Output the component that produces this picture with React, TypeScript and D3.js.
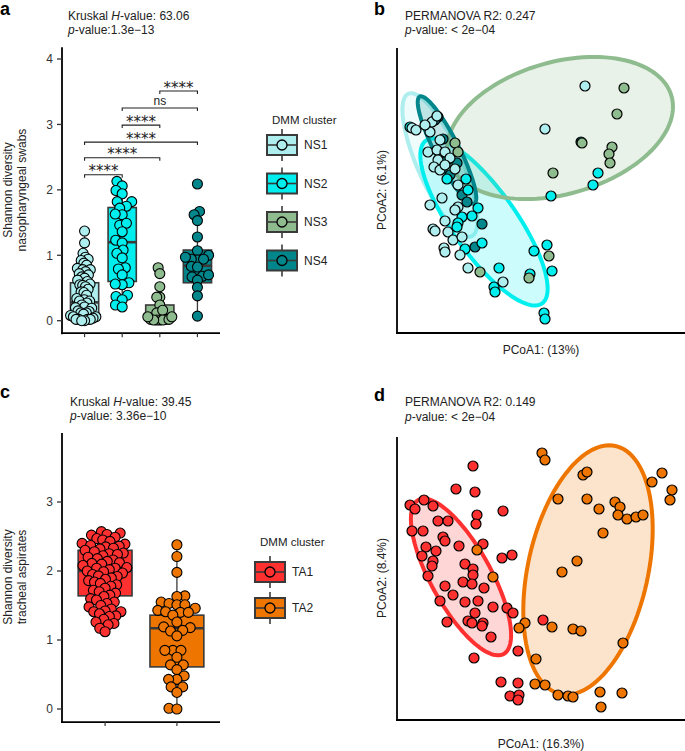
import React from "react";
import * as d3 from "d3";

const FONT = "'Liberation Sans', Arial, Helvetica, sans-serif";
const STAR_FONT = "'DejaVu Sans', sans-serif";

// ---------- Panel a : nasopharyngeal Shannon diversity ----------
const NS_GROUPS = ["NS1", "NS2", "NS3", "NS4"];
const NS_COLORS = ["#AEEEEE", "#00EEEE", "#8FBC8F", "#00868B"];
const NS1_SHANNON = [1.37, 1.19, 1.03, 0.97, 0.94, 0.92, 0.88, 0.85, 0.8, 0.78, 0.78, 0.75, 0.72, 0.7, 0.67, 0.65, 0.62, 0.6, 0.56, 0.55, 0.54, 0.52, 0.48, 0.44, 0.43, 0.39, 0.34, 0.32, 0.3, 0.3, 0.27, 0.24, 0.21, 0.2, 0.19, 0.15, 0.14, 0.12, 0.12, 0.1, 0.08, 0.06, 0.06, 0.04, 0.02, 0.02, 0.02, 0.02, 0.0, 0.0];
const NS2_SHANNON = [2.13, 2.06, 1.99, 1.94, 1.82, 1.82, 1.75, 1.72, 1.62, 1.63, 1.46, 1.49, 1.36, 1.23, 1.19, 1.08, 1.03, 0.96, 0.81, 0.79, 0.7, 0.58, 0.55, 0.56, 0.37, 0.39, 0.32, 0.24, 0.21];
const NS3_SHANNON = [0.81, 0.72, 0.52, 0.36, 0.36, 0.24, 0.12, 0.12, 0.16, 0.01, 0.02, 0.01, 0.02, 0.01, 0.02, 0.01, 0.06, 0.06];
const NS4_SHANNON = [2.09, 1.67, 1.62, 1.53, 1.28, 1.07, 1.0, 0.93, 0.94, 0.97, 0.94, 0.83, 0.82, 0.68, 0.7, 0.67, 0.62, 0.51, 0.38, 0.07];
const NS_Q1 = [0.06, 0.6, 0.0, 0.58];
const NS_MEDIAN = [0.28, 1.2, 0.04, 0.84];
const NS_Q3 = [0.58, 1.73, 0.24, 1.08];
const NS_WLO = [0.0, 0.21, 0.0, 0.07];
const NS_WHI = [1.37, 2.13, 0.52, 1.67];
const NS_SPREAD = [14, 12, 12, 12];
const NS_TICKS = [0, 1, 2, 3, 4];
const SIG_FROM = ["NS1", "NS1", "NS1", "NS2", "NS2", "NS3"];
const SIG_TO = ["NS2", "NS3", "NS4", "NS3", "NS4", "NS4"];
const SIG_Y = [2.23, 2.49, 2.73, 2.99, 3.25, 3.51];
const SIG_LABEL = ["****", "****", "****", "****", "ns", "****"];

// ---------- Panel c : tracheal aspirate Shannon diversity ----------
const TA_GROUPS = ["TA1", "TA2"];
const TA_COLORS = ["#FF3030", "#EE7600"];
const TA1_SHANNON = [2.57, 2.55, 2.53, 2.52, 2.49, 2.47, 2.45, 2.43, 2.4, 2.39, 2.37, 2.36, 2.35, 2.33, 2.32, 2.3, 2.28, 2.26, 2.25, 2.24, 2.22, 2.2, 2.18, 2.16, 2.14, 2.12, 2.11, 2.1, 2.08, 2.05, 2.04, 2.04, 2.02, 2.0, 1.99, 1.97, 1.95, 1.93, 1.92, 1.9, 1.88, 1.86, 1.84, 1.82, 1.8, 1.78, 1.75, 1.72, 1.7, 1.68, 1.65, 1.63, 1.6, 1.58, 1.55, 1.53, 1.5, 1.48, 1.45, 1.42, 1.41, 1.41, 1.38, 1.35, 1.34, 1.3, 1.26, 1.24, 1.22, 1.17, 1.12];
const TA2_SHANNON = [2.38, 2.21, 1.98, 1.64, 1.63, 1.55, 1.53, 1.51, 1.51, 1.46, 1.43, 1.41, 1.4, 1.4, 1.36, 1.26, 1.19, 1.18, 1.14, 1.13, 1.06, 0.85, 0.85, 0.85, 0.75, 0.64, 0.64, 0.57, 0.48, 0.43, 0.43, 0.32, 0.32, 0.24, 0.01, 0.0];
const TA_Q1 = [1.64, 0.61];
const TA_MEDIAN = [2.0, 1.17];
const TA_Q3 = [2.3, 1.36];
const TA_WLO = [1.12, 0.0];
const TA_WHI = [2.57, 2.38];
const TA_SPREAD = [23, 25];
const TA_TICKS = [0, 1, 2, 3];

// ---------- Panel b : PCoA nasopharyngeal (PCoA1, PCoA2) ----------
const NS1_PCOA = [[188, 247], [148, 204], [15, 205], [19, 203], [33, 201], [35, 211], [40, 217], [28, 208], [43, 193], [31, 181], [40, 183], [48, 181], [53, 175], [41, 173], [37, 166], [43, 163], [48, 168], [58, 164], [61, 148], [45, 135], [33, 128], [61, 126], [58, 123], [48, 112], [36, 104], [38, 102], [51, 101], [56, 93], [65, 96], [47, 85], [48, 81], [63, 78], [71, 65], [106, 51]];
const NS2_PCOA = [[13, 206], [50, 154], [69, 154], [71, 143], [81, 125], [75, 117], [65, 116], [61, 110], [85, 90], [60, 106], [68, 84], [102, 65], [97, 46], [98, 41], [133, 59], [137, 82], [150, 88], [155, 62], [147, 20], [148, 14], [154, 137], [196, 148], [201, 160]];
const NS3_PCOA = [[227, 245], [220, 219], [185, 190], [215, 186], [212, 179], [213, 170], [156, 160], [58, 190], [61, 181], [83, 61], [132, 55], [152, 77]];
const NS4_PCOA = [[41, 216], [38, 213], [46, 194], [50, 173], [60, 170], [53, 158], [65, 138], [70, 131], [85, 109], [78, 86], [184, 191]];
// ellipse centre x, centre y, semi-axis a, semi-axis b, angle (deg)
const NS_ELL_CX = [43, 87, 163, 50];
const NS_ELL_CY = [168, 111, 205, 183];
const NS_ELL_A = [78, 100, 116, 60];
const NS_ELL_B = [22, 32, 66, 12];
const NS_ELL_ANGLE = [-66, -54.5, 16, -63];

// ---------- Panel d : PCoA tracheal aspirates ----------
const TA1_PCOA = [[76, 254], [59, 231], [78, 228], [106, 209], [13, 215], [18, 211], [27, 220], [36, 214], [80, 205], [79, 196], [41, 199], [51, 199], [15, 189], [26, 189], [46, 183], [48, 179], [62, 174], [86, 176], [29, 173], [39, 169], [25, 164], [36, 159], [35, 154], [31, 144], [68, 156], [76, 151], [76, 145], [66, 138], [75, 136], [87, 132], [105, 162], [115, 165], [48, 134], [56, 125], [43, 119], [68, 118], [81, 119], [96, 113], [78, 107], [71, 99], [75, 97], [86, 97], [85, 94], [110, 112], [116, 107], [50, 98], [94, 83], [121, 69], [146, 100], [77, 62], [104, 38], [121, 37], [113, 24], [122, 25], [121, 20]];
const TA2_PCOA = [[145, 267], [148, 260], [186, 245], [190, 248], [161, 221], [190, 221], [202, 211], [218, 218], [223, 213], [221, 205], [230, 201], [239, 203], [246, 205], [206, 187], [255, 238], [265, 247], [275, 230], [273, 220], [180, 159], [165, 148], [96, 143], [80, 170], [128, 97], [122, 92], [155, 93], [176, 91], [184, 89], [226, 77], [139, 61], [138, 36], [148, 35], [161, 25], [171, 24], [176, 23], [203, 28], [204, 13], [225, 27]];
const TA_ELL_CX = [64, 191];
const TA_ELL_CY = [143, 150];
const TA_ELL_A = [88, 127];
const TA_ELL_B = [30, 60];
const TA_ELL_ANGLE = [-61, 77.5];

// ---------- helpers ----------
function swarm(values: number[], y: (v: number) => number, D: number, maxHalf: number) {
  const pts = values.map((v) => ({ v, py: y(v), dx: 0 }));
  const order = [...pts].sort((a, b) => b.py - a.py);
  const placed: { v: number; py: number; dx: number }[] = [];
  for (const p of order) {
    const intervals: [number, number][] = [];
    for (const q of placed) {
      const dy = Math.abs(q.py - p.py);
      if (dy < D) {
        const w = Math.sqrt(D * D - dy * dy);
        intervals.push([q.dx - w, q.dx + w]);
      }
    }
    const cands = [0];
    intervals.forEach(([a, b]) => cands.push(a, b));
    cands.sort((a, b) => Math.abs(a) - Math.abs(b));
    let chosen = 0;
    for (const c of cands) {
      if (intervals.every(([a, b]) => c <= a + 1e-6 || c >= b - 1e-6)) {
        chosen = c;
        break;
      }
    }
    p.dx = chosen;
    placed.push(p);
  }
  const m = d3.max(pts, (p) => Math.abs(p.dx)) || 1;
  const k = Math.min(1, maxHalf / m);
  pts.forEach((p) => (p.dx *= k));
  return pts;
}

function ellipsePath(cx: number, cy: number, a: number, b: number, ang: number, xs: any, ys: any) {
  const th = (ang * Math.PI) / 180;
  const pts: [number, number][] = d3.range(0, 360, 3).map((t) => {
    const r = (t * Math.PI) / 180;
    const ex = a * Math.cos(r);
    const ey = b * Math.sin(r);
    return [xs(cx + ex * Math.cos(th) - ey * Math.sin(th)), ys(cy + ex * Math.sin(th) + ey * Math.cos(th))];
  });
  return d3.line().curve(d3.curveLinearClosed)(pts) || "";
}

const BOX_STROKE = "#3a3a3a";

function BoxSwarm(props: {
  groups: string[];
  colors: string[];
  values: number[][];
  q1: number[];
  med: number[];
  q3: number[];
  wlo: number[];
  whi: number[];
  spread: number[];
  ticks: number[];
  yDomain: [number, number];
  yRange: [number, number];
  yLim: [number, number];
  xRange: [number, number];
  D: number;
}) {
  const x = d3.scalePoint<string>().domain(props.groups).range(props.xRange).padding(0.6);
  const y = d3.scaleLinear().domain(props.yDomain).range(props.yRange);
  const bw = x.step() * 0.75;
  const x0 = props.xRange[0];
  const yBottom = y(props.yLim[0]);
  const yTopPx = y(props.yLim[1]);
  return (
    <g>
      {props.groups.map((g, i) => {
        const cx = x(g) as number;
        return (
          <g key={g}>
            <line x1={cx} x2={cx} y1={y(props.whi[i])} y2={y(props.q3[i])} stroke={BOX_STROKE} strokeWidth={1.3} />
            <line x1={cx} x2={cx} y1={y(props.q1[i])} y2={y(props.wlo[i])} stroke={BOX_STROKE} strokeWidth={1.3} />
            <rect x={cx - bw / 2} y={y(props.q3[i])} width={bw} height={y(props.q1[i]) - y(props.q3[i])} fill={props.colors[i]} stroke={BOX_STROKE} strokeWidth={1.6} />
            <line x1={cx - bw / 2} x2={cx + bw / 2} y1={y(props.med[i])} y2={y(props.med[i])} stroke={BOX_STROKE} strokeWidth={2.6} />
          </g>
        );
      })}
      {props.groups.map((g, i) => {
        const cx = x(g) as number;
        const pts = swarm(props.values[i], y, props.D, props.spread[i]);
        return (
          <g key={g + "p"}>
            {pts.map((p, j) => (
              <circle key={j} cx={cx + p.dx} cy={p.py} r={5} fill={props.colors[i]} stroke="#000" strokeWidth={1.1} />
            ))}
          </g>
        );
      })}
      <line x1={x0} x2={x0} y1={yTopPx} y2={yBottom + 1} stroke="#000" strokeWidth={1.8} />
      <line x1={x0 - 1} x2={props.xRange[1]} y1={yBottom} y2={yBottom} stroke="#000" strokeWidth={1.8} />
      {props.ticks.map((t) => (
        <g key={t}>
          <line x1={x0 - 5} x2={x0} y1={y(t)} y2={y(t)} stroke="#333" strokeWidth={1.3} />
          <text x={x0 - 9} y={y(t) + 4.3} fontSize={12} textAnchor="end" fill="#333" fontFamily={FONT}>
            {t}
          </text>
        </g>
      ))}
      {props.groups.map((g) => (
        <line key={g + "t"} x1={x(g) as number} x2={x(g) as number} y1={yBottom} y2={yBottom + 4} stroke="#333" strokeWidth={1.2} />
      ))}
    </g>
  );
}

function Sig() {
  const x = d3.scalePoint<string>().domain(NS_GROUPS).range([62, 220]).padding(0.6);
  const y = d3.scaleLinear().domain([0, 4]).range([320.7, 59]);
  return (
    <g>
      {SIG_Y.map((v, i) => {
        const x1 = x(SIG_FROM[i]) as number;
        const x2 = x(SIG_TO[i]) as number;
        const yy = y(v);
        const star = SIG_LABEL[i] !== "ns";
        return (
          <g key={i}>
            <path d={`M${x1},${yy + 3}V${yy}H${x2}V${yy + 3}`} fill="none" stroke="#222" strokeWidth={1.1} />
            <text x={(x1 + x2) / 2} y={star ? yy + 1.5 : yy - 3} textAnchor="middle" fontSize={star ? 15 : 12} fontFamily={star ? STAR_FONT : FONT} fill="#222">
              {SIG_LABEL[i]}
            </text>
          </g>
        );
      })}
    </g>
  );
}

function Legend(props: { groups: string[]; colors: string[]; x: number; titleY: number; firstY: number; step: number }) {
  return (
    <g fontFamily={FONT}>
      <text x={props.x + 5} y={props.titleY} fontSize={11.5} fill="#222">
        DMM cluster
      </text>
      {props.groups.map((g, i) => {
        const cy = props.firstY + i * props.step;
        const cx = props.x + 15;
        return (
          <g key={g}>
            <line x1={cx} x2={cx} y1={cy - 16} y2={cy + 16} stroke={BOX_STROKE} strokeWidth={1.6} />
            <rect x={props.x} y={cy - 10} width={30} height={20} fill={props.colors[i]} stroke={BOX_STROKE} strokeWidth={2} />
            <line x1={props.x} x2={props.x + 30} y1={cy} y2={cy} stroke={BOX_STROKE} strokeWidth={1.6} />
            <circle cx={cx} cy={cy} r={5} fill={props.colors[i]} stroke="#000" strokeWidth={1.3} />
            <text x={props.x + 37} y={cy + 4.3} fontSize={12} fill="#222">
              {g}
            </text>
          </g>
        );
      })}
    </g>
  );
}

function Pcoa(props: {
  colors: string[];
  points: number[][][];
  drawOrder: number[];
  ellCx: number[];
  ellCy: number[];
  ellA: number[];
  ellB: number[];
  ellAng: number[];
  yRange: [number, number];
  yMax: number;
}) {
  const xs = d3.scaleLinear().domain([0, 288]).range([397, 685]);
  const ys = d3.scaleLinear().domain([0, props.yMax]).range(props.yRange);
  return (
    <g>
      {props.ellCx.map((cx, i) => (
        <path
          key={i}
          d={ellipsePath(cx, props.ellCy[i], props.ellA[i], props.ellB[i], props.ellAng[i], xs, ys)}
          fill={props.colors[i]}
          fillOpacity={0.2}
          stroke={props.colors[i]}
          strokeWidth={4}
        />
      ))}
      {props.drawOrder.map((gi) => (
        <g key={gi}>
          {props.points[gi].map((p, j) => (
            <circle key={j} cx={xs(p[0])} cy={ys(p[1])} r={5} fill={props.colors[gi]} stroke="#000" strokeWidth={1.2} />
          ))}
        </g>
      ))}
      <line x1={397} x2={397} y1={props.yRange[1]} y2={props.yRange[0] + 1} stroke="#000" strokeWidth={1.8} />
      <line x1={396} x2={685} y1={props.yRange[0]} y2={props.yRange[0]} stroke="#000" strokeWidth={1.8} />
    </g>
  );
}

export default function App() {
  return (
    <svg width={685} height={751} style={{ position: "absolute", left: 0, top: 0, display: "block" }} fontFamily={FONT}>
      <rect width={685} height={751} fill="#fff" />
      {/* Panel letters */}
      <text x={0} y={15} fontSize={18} fontWeight="bold" fill="#000">a</text>
      <text x={374} y={15} fontSize={18} fontWeight="bold" fill="#000">b</text>
      <text x={0} y={398} fontSize={18} fontWeight="bold" fill="#000">c</text>
      <text x={374} y={401} fontSize={18} fontWeight="bold" fill="#000">d</text>

      {/* Panel a */}
      <text x={68} y={20} fontSize={12} fill="#222">
        Kruskal <tspan fontStyle="italic">H</tspan>-value: 63.06
      </text>
      <text x={68} y={34} fontSize={12} fill="#222">
        <tspan fontStyle="italic">p</tspan>-value:1.3e−13
      </text>
      <text transform="translate(12,190) rotate(-90)" textAnchor="middle" fontSize={12} fill="#222">
        Shannon diversity
      </text>
      <text transform="translate(26,190) rotate(-90)" textAnchor="middle" fontSize={12} fill="#222">
        nasopharyngeal swabs
      </text>
      <BoxSwarm
        groups={NS_GROUPS}
        colors={NS_COLORS}
        values={[NS1_SHANNON, NS2_SHANNON, NS3_SHANNON, NS4_SHANNON]}
        q1={NS_Q1}
        med={NS_MEDIAN}
        q3={NS_Q3}
        wlo={NS_WLO}
        whi={NS_WHI}
        spread={NS_SPREAD}
        ticks={NS_TICKS}
        yDomain={[0, 4]}
        yRange={[320.7, 59]}
        yLim={[-0.19, 4.18]}
        xRange={[62, 220]}
        D={7}
      />
      <Sig />
      <Legend groups={NS_GROUPS} colors={NS_COLORS} x={267} titleY={124} firstY={145} step={38.5} />

      {/* Panel b */}
      <text x={405} y={20} fontSize={12} fill="#222">PERMANOVA R2: 0.247</text>
      <text x={405} y={34} fontSize={12} fill="#222">
        <tspan fontStyle="italic">p</tspan>-value: {"<"} 2e−04
      </text>
      <Pcoa
        colors={NS_COLORS}
        points={[NS1_PCOA, NS2_PCOA, NS3_PCOA, NS4_PCOA]}
        drawOrder={[3, 1, 0, 2]}
        ellCx={NS_ELL_CX}
        ellCy={NS_ELL_CY}
        ellA={NS_ELL_A}
        ellB={NS_ELL_B}
        ellAng={NS_ELL_ANGLE}
        yRange={[333, 48]}
        yMax={285}
      />
      <text x={541} y={354} textAnchor="middle" fontSize={12} fill="#222">PCoA1: (13%)</text>
      <text transform="translate(386,190) rotate(-90)" textAnchor="middle" fontSize={12} fill="#222">PCoA2: (6.1%)</text>

      {/* Panel c */}
      <text x={70} y={406} fontSize={12} fill="#222">
        Kruskal <tspan fontStyle="italic">H</tspan>-value: 39.45
      </text>
      <text x={70} y={420} fontSize={12} fill="#222">
        <tspan fontStyle="italic">p</tspan>-value: 3.36e−10
      </text>
      <text transform="translate(12,577) rotate(-90)" textAnchor="middle" fontSize={12} fill="#222">
        Shannon diversity
      </text>
      <text transform="translate(26,577) rotate(-90)" textAnchor="middle" fontSize={12} fill="#222">
        tracheal aspirates
      </text>
      <BoxSwarm
        groups={TA_GROUPS}
        colors={TA_COLORS}
        values={[TA1_SHANNON, TA2_SHANNON]}
        q1={TA_Q1}
        med={TA_MEDIAN}
        q3={TA_Q3}
        wlo={TA_WLO}
        whi={TA_WHI}
        spread={TA_SPREAD}
        ticks={TA_TICKS}
        yDomain={[0, 3]}
        yRange={[709, 502]}
        yLim={[-0.19, 4.0]}
        xRange={[62, 220]}
        D={8}
      />
      <Legend groups={TA_GROUPS} colors={TA_COLORS} x={255} titleY={546} firstY={572} step={36} />

      {/* Panel d */}
      <text x={405} y={406} fontSize={12} fill="#222">PERMANOVA R2: 0.149</text>
      <text x={405} y={421} fontSize={12} fill="#222">
        <tspan fontStyle="italic">p</tspan>-value: {"<"} 2e−04
      </text>
      <Pcoa
        colors={TA_COLORS}
        points={[TA1_PCOA, TA2_PCOA]}
        drawOrder={[0, 1]}
        ellCx={TA_ELL_CX}
        ellCy={TA_ELL_CY}
        ellA={TA_ELL_A}
        ellB={TA_ELL_B}
        ellAng={TA_ELL_ANGLE}
        yRange={[720, 437]}
        yMax={283}
      />
      <text x={541} y={748} textAnchor="middle" fontSize={12} fill="#222">PCoA1: (16.3%)</text>
      <text transform="translate(386,578) rotate(-90)" textAnchor="middle" fontSize={12} fill="#222">PCoA2: (8.4%)</text>
    </svg>
  );
}
